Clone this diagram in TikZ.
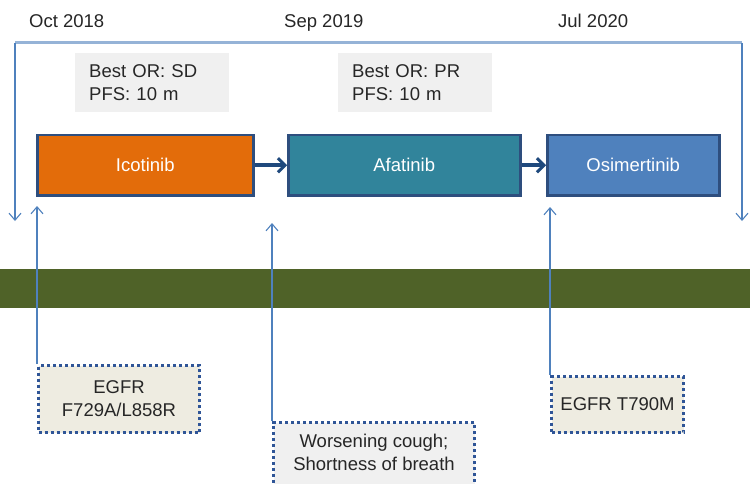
\documentclass[tikz,border=0pt]{standalone}
\usepackage{fontspec}
\setmainfont{Liberation Sans}
\usetikzlibrary{arrows.meta}
\definecolor{linelt}{HTML}{95B3D7}
\definecolor{linemid}{HTML}{4F81BD}
\definecolor{navy}{HTML}{1F497D}
\definecolor{boxedge}{HTML}{2E4E7E}
\definecolor{icoorange}{HTML}{E36C0A}
\definecolor{afateal}{HTML}{31849B}
\definecolor{osiblue}{HTML}{4F81BD}
\definecolor{band}{HTML}{4F6228}
\definecolor{notegray}{HTML}{F0F0F0}
\definecolor{beige}{HTML}{EEECE1}
\definecolor{dotblue}{HTML}{2F5597}
\definecolor{txt}{HTML}{262626}
\tikzset{
  x=1pt, y=-1pt,
  every node/.style={font=\fontsize{18.5}{23}\selectfont, text=txt},
  datelbl/.style={anchor=base west, inner sep=0pt},
  respbox/.style={fill=notegray, draw=none, align=left, anchor=north west, inner sep=0pt,
    minimum width=140pt, minimum height=59pt, text width=126pt, inner xsep=14pt},
  drug/.style={draw=boxedge, line width=2.5pt, text=white, anchor=north west, inner sep=0pt, minimum height=60pt},
  flow/.style={draw=navy, line width=3.5pt, -{Straight Barb[length=7pt,width=14pt,line width=3pt]}},
  tick/.style={draw=linemid, line width=1.1pt, -{Straight Barb[length=7pt,width=12pt,line width=1.1pt]}},
  evtbox/.style={draw=dotblue, line width=3pt, dash pattern=on 3pt off 3pt, align=center, anchor=north west, inner xsep=0pt},
}
\begin{document}
\begin{tikzpicture}
\useasboundingbox (0,0) rectangle (750,484);
\clip (0,0) rectangle (750,484);

% dates
\node[datelbl] (d1) at (29,28) {Oct 2018};
\node[datelbl] (d2) at (284,28) {Sep 2019};
\node[datelbl] (d3) at (558,28) {Jul 2020};

% timeline bracket
\coordinate (tl) at (15,43);
\coordinate (tr) at (742,43);
\coordinate (bl) at (15,221);
\coordinate (br) at (742,221);
\draw[linelt, line width=3pt] (tl) -- (tr);
\draw[tick] (tl) -- (bl);
\draw[tick] (tr) -- (br);

% best response notes
\node[respbox] (r1) at (75,53) {Best OR: SD\\PFS: 10 m};
\node[respbox] (r2) at (338,53) {Best OR: PR\\PFS: 10 m};

% treatment lines
\node[drug, fill=icoorange, minimum width=216pt] (ico) at (36,134) {\textcolor{white}{Icotinib}};
\node[drug, fill=afateal, minimum width=232pt] (afa) at (287,134) {\textcolor{white}{Afatinib}};
\node[drug, fill=osiblue, minimum width=172pt] (osi) at (546,134) {\textcolor{white}{Osimertinib}};
\draw[flow] (ico.east) -- (afa.west);
\draw[flow] (afa.east) -- (osi.west);

% band
\fill[band] (0,269) rectangle (750,308);

% events
\node[evtbox, fill=beige, minimum width=161pt, minimum height=67pt] (e1) at (37,364) {EGFR\\F729A/L858R};
\node[evtbox, fill=notegray, minimum width=201pt, inner ysep=12pt] (e2) at (272,421) {Worsening cough;\\Shortness of breath\rule[-14pt]{0pt}{0pt}};
\node[evtbox, fill=beige, minimum width=132pt, minimum height=56pt] (e3) at (550,375) {EGFR T790M};

\coordinate (a1) at ([yshift=158pt]e1.north west);
\coordinate (a2) at ([yshift=198pt]e2.north west);
\coordinate (a3) at ([yshift=168pt]e3.north west);
\draw[tick] (e1.north west) -- (a1);
\draw[tick] (e2.north west) -- (a2);
\draw[tick] (e3.north west) -- (a3);
\end{tikzpicture}
\end{document}
